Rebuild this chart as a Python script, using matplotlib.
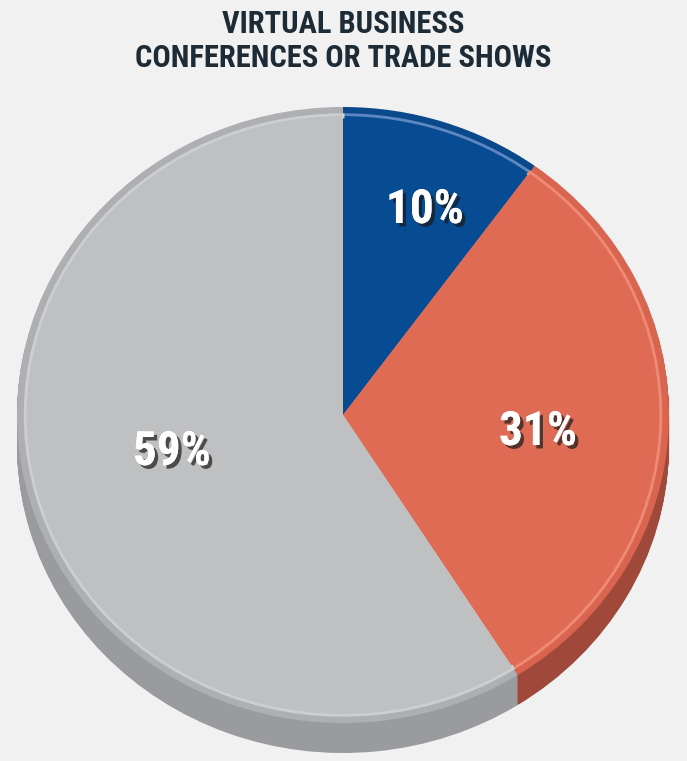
import matplotlib
matplotlib.use("Agg")
import matplotlib.pyplot as plt
import matplotlib.patheffects as pe
import numpy as np

# Survey shares
categories = ["Yes", "Maybe", "No"]
shares = [10, 31, 59]
top_colors = ["#074C92", "#E06B55", "#BFC0C2"]
bevel_colors = ["#0A4A8C", "#D9644F", "#AEAFB2"]
rim_colors = ["#5F88C2", "#EF8B74", "#CDCED0"]
side_colors = ["#05376B", "#A0493A", "#9A9B9E"]
title = "VIRTUAL BUSINESS\nCONFERENCES OR TRADE SHOWS"

FONTS = ["Roboto Condensed", "Liberation Sans Narrow", "DejaVu Sans Condensed",
         "Roboto", "DejaVu Sans"]

W, H = 687, 761
fig = plt.figure(figsize=(W / 100, H / 100), dpi=100)
fig.patch.set_facecolor("#F1F1F1")
ax = fig.add_axes([0, 0, 1, 1])
ax.set_facecolor("#F1F1F1")

# pixel geometry of the disc (used to lay out the axes limits)
cx, cy, rx, ry = 343, 415, 326, 308
depth = 30 / ry

# extruded side of the disc: stack of darker pies below the top face
for off in np.linspace(depth, 0.004, 40):
    ax.pie(shares, colors=side_colors, startangle=90, counterclock=False,
           center=(0, -off), radius=1.0,
           wedgeprops=dict(linewidth=0))

# top face: outer bevel band, then the flat face with a light rim
ax.pie(shares, colors=bevel_colors, startangle=90, counterclock=False,
       radius=1.0, wedgeprops=dict(linewidth=0))
wedges, _ = ax.pie(shares, colors=top_colors, startangle=90, counterclock=False,
                   radius=0.975, wedgeprops=dict(linewidth=2.0))
for w, rc in zip(wedges, rim_colors):
    w.set_edgecolor(rc)
    w.set_joinstyle("miter")
ax.pie(shares, colors=top_colors, startangle=90, counterclock=False,
       radius=0.963, wedgeprops=dict(linewidth=0))

ax.set_aspect("auto")
ax.set_xlim((0 - cx) / rx, (W - cx) / rx)
ax.set_ylim((cy - H) / ry, (cy - 0) / ry)
ax.axis("off")

# percentage labels
label_pos = [((425 - cx) / rx, (cy - 210) / ry),
             ((538 - cx) / rx, (cy - 432) / ry),
             ((172 - cx) / rx, (cy - 452) / ry)]
for v, (x, y) in zip(shares, label_pos):
    ax.text(x, y, f"{v}%", ha="center", va="center", color="white",
            fontsize=34, fontweight="bold", family=FONTS,
            path_effects=[pe.withSimplePatchShadow(offset=(2.5, -2.5),
                                                    shadow_rgbFace="#1a1a1a",
                                                    alpha=0.7),
                          pe.Normal()])

fig.text(0.5, 1 - 41 / H, title, ha="center", va="center", color="#1C2B36",
         fontsize=22, fontweight="bold", linespacing=1.15, family=FONTS)

fig.savefig("out.png", dpi=100, facecolor=fig.get_facecolor())
